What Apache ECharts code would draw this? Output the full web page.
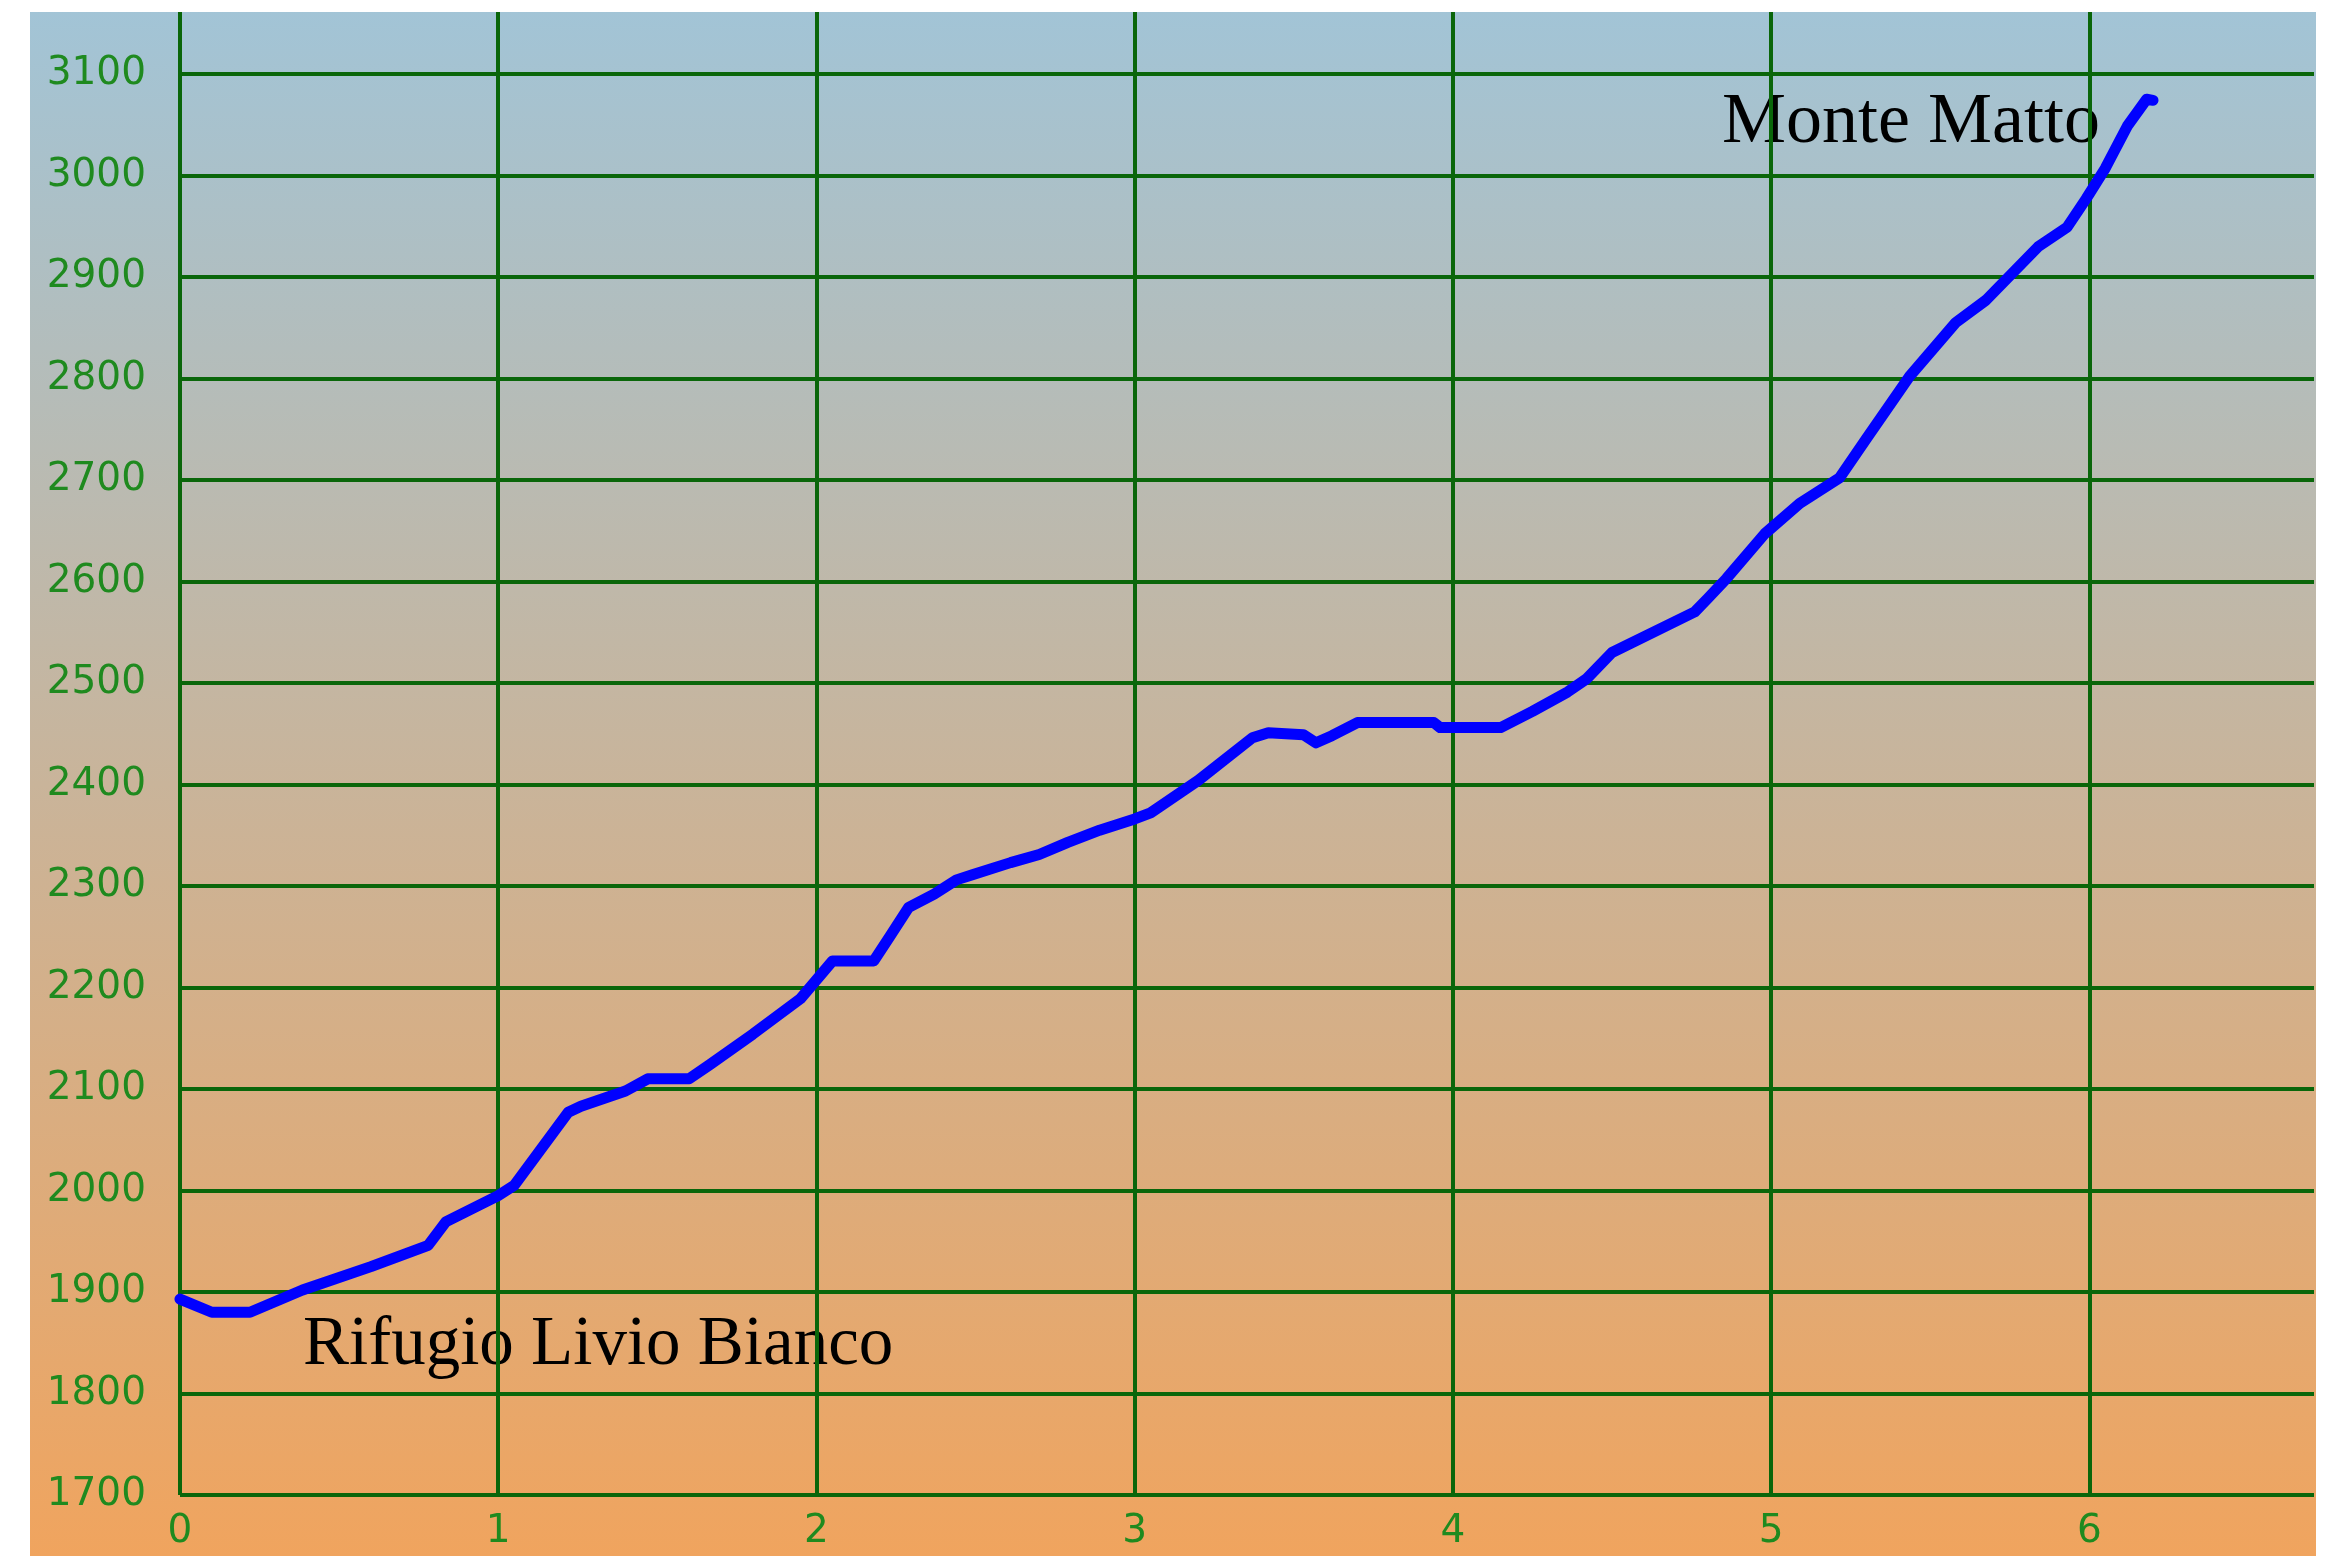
<!DOCTYPE html>
<html>
<head>
<meta charset="utf-8">
<script src="https://cdn.jsdelivr.net/npm/echarts@6/dist/echarts.min.js"></script>
<style>
html, body {
  margin: 0;
  padding: 0;
  width: 2326px;
  height: 1556px;
  background: #ffffff;
  overflow: hidden;
}
#main {
  position: absolute;
  left: 30px;
  top: 12px;
  width: 2286px;
  height: 1544px;
}
</style>
</head>
<body>
<div id="main"></div>
<script>
// distance along the route (km)
const distance = [0, 0.1, 0.22, 0.385, 0.6, 0.78, 0.835, 1.0, 1.05, 1.22, 1.26, 1.40, 1.47, 1.60, 1.665,
  1.80, 1.95, 2.05, 2.18, 2.23, 2.29, 2.37, 2.44, 2.49, 2.61, 2.70, 2.79, 2.89, 3.0, 3.05, 3.20,
  3.37, 3.42, 3.53, 3.57, 3.62, 3.70, 3.94, 3.96, 4.15, 4.25, 4.36, 4.42, 4.50, 4.76, 4.80, 4.86,
  4.98, 5.09, 5.215, 5.30, 5.435, 5.58, 5.675, 5.84, 5.93, 5.99, 6.05, 6.12, 6.18, 6.20];
// elevation (m)
const elevation = [1893, 1880, 1880, 1902, 1925, 1946, 1969, 1995, 2005, 2077, 2083, 2098, 2110, 2110, 2124,
  2154, 2189, 2226, 2226, 2250, 2279, 2292, 2306, 2311, 2323, 2331, 2343, 2355, 2366, 2372, 2404,
  2446, 2451, 2449, 2441, 2448, 2461, 2461, 2456, 2456, 2472, 2491, 2504, 2530, 2570, 2583, 2603,
  2647, 2677, 2702, 2741, 2802, 2855, 2877, 2930, 2949, 2977, 3007, 3049, 3075, 3074];
const startName = 'Rifugio Livio Bianco';
const endName = 'Monte Matto';

const gridColor = '#0a660a';
const labelColor = '#1f8a1f';

const chart = echarts.init(document.getElementById('main'));
chart.setOption({
  animation: false,
  backgroundColor: new echarts.graphic.LinearGradient(0, 0, 0, 1, [
    { offset: 0, color: '#a2c4d6' },
    { offset: 1, color: '#f0a45e' }
  ]),
  grid: { left: 150, top: 0, right: 2, bottom: 61 },
  xAxis: {
    type: 'value',
    min: 0,
    max: 6.706,
    interval: 1,
    axisLine: { show: false },
    axisTick: { show: false },
    axisLabel: {
      color: labelColor,
      fontFamily: 'DejaVu Sans',
      fontSize: 39,
      margin: 17,
      showMaxLabel: false,
      formatter: v => String(v)
    },
    splitLine: { show: true, showMaxLine: false, lineStyle: { color: gridColor, width: 4 } }
  },
  yAxis: {
    type: 'value',
    min: 1700,
    max: 3161,
    interval: 100,
    axisLine: { show: false },
    axisTick: { show: false },
    axisLabel: {
      color: labelColor,
      fontFamily: 'DejaVu Sans',
      fontSize: 39,
      margin: 34,
      showMaxLabel: false,
      formatter: v => String(v)
    },
    splitLine: { show: true, showMaxLine: false, lineStyle: { color: gridColor, width: 4 } }
  },
  series: [{
    type: 'line',
    data: distance.map((d, i) => [d, elevation[i]]),
    showSymbol: false,
    symbol: 'none',
    lineStyle: { color: '#0000ff', width: 11, join: 'round', cap: 'round' }
  }],
  graphic: [
    {
      type: 'text',
      x: 1692,
      y: 111,
      style: {
        text: endName,
        font: '72px "Liberation Serif"',
        fill: '#000000',
        verticalAlign: 'middle',
        textVerticalAlign: 'middle'
      }
    },
    {
      type: 'text',
      x: 273,
      y: 1334,
      style: {
        text: startName,
        font: '69px "Liberation Serif"',
        fill: '#000000',
        verticalAlign: 'middle',
        textVerticalAlign: 'middle'
      }
    }
  ]
});
</script>
</body>
</html>
